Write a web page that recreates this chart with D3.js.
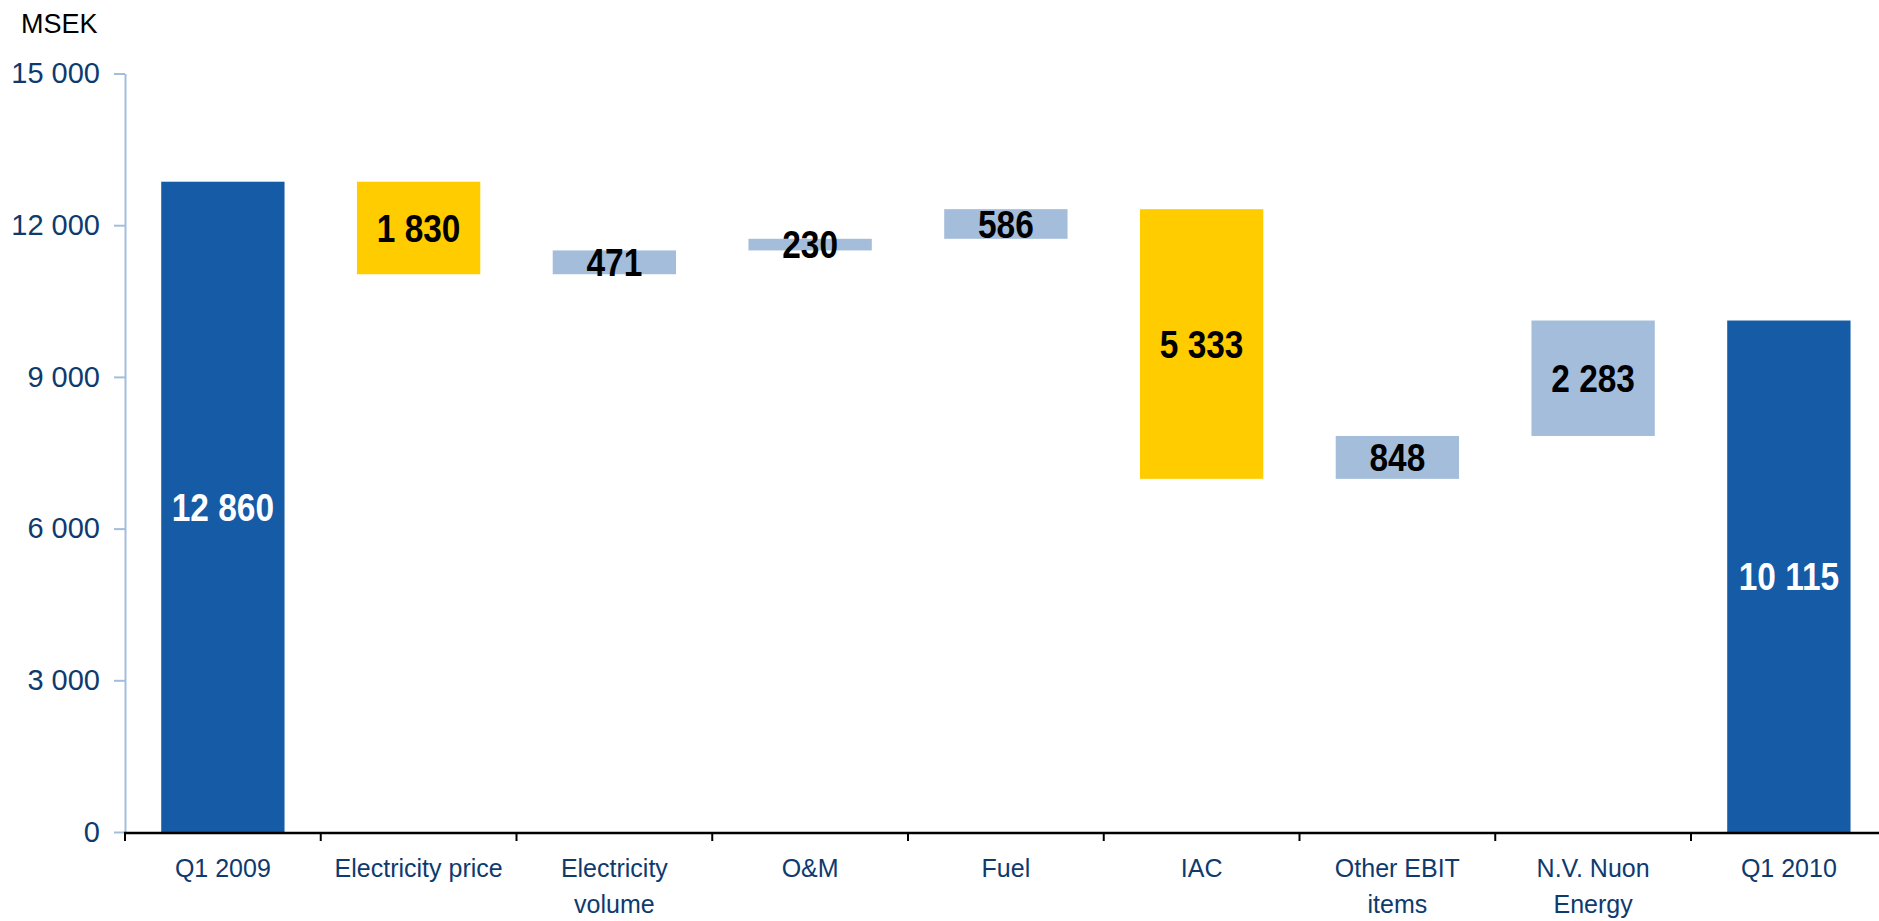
<!DOCTYPE html>
<html>
<head>
<meta charset="utf-8">
<script src="https://cdn.jsdelivr.net/npm/d3@7"></script>
<style>
  html, body { margin: 0; padding: 0; background: #fff; }
  svg { display: block; font-family: "Liberation Sans", Arial, sans-serif; }
</style>
</head>
<body>
<svg id="chart" width="1879" height="921"></svg>
<script>
// ---- data ----
const categories = ["Q1 2009", "Electricity price", "Electricity volume", "O&M", "Fuel", "IAC", "Other EBIT items", "N.V. Nuon Energy", "Q1 2010"];
const categoryLines = [["Q1 2009"], ["Electricity price"], ["Electricity", "volume"], ["O&M"], ["Fuel"], ["IAC"], ["Other EBIT", "items"], ["N.V. Nuon", "Energy"], ["Q1 2010"]];
const changes = [12860, -1830, 471, 230, 586, -5333, 848, 2283, 10115];
const kinds = ["total", "neg", "pos", "pos", "pos", "neg", "pos", "pos", "total"];
const yTicks = [0, 3000, 6000, 9000, 12000, 15000];
const unitLabel = "MSEK";

// ---- build waterfall segments ----
let running = 0;
const segs = categories.map((c, i) => {
  let y0, y1;
  if (kinds[i] === "total") { y0 = 0; y1 = changes[i]; running = changes[i]; }
  else { y0 = running; y1 = running + changes[i]; running = y1; }
  return { cat: c, lines: categoryLines[i], lo: Math.min(y0, y1), hi: Math.max(y0, y1), value: Math.abs(changes[i]), kind: kinds[i] };
});

const colors = { total: "#155BA6", neg: "#FFCC00", pos: "#A3BDDB" };
const textColor = "#0E3A6E";

const svg = d3.select("#chart");
const left = 125, bandW = 195.75;
const x = d3.scaleBand().domain(categories).range([left, left + bandW * categories.length]).padding(0);
const y = d3.scaleLinear().domain([0, 15000]).range([832, 73.5]);
const barW = x.bandwidth() * 0.63;

// bars
svg.append("g").selectAll("rect").data(segs).join("rect")
  .attr("x", d => x(d.cat) + (x.bandwidth() - barW) / 2)
  .attr("width", barW)
  .attr("y", d => y(d.hi))
  .attr("height", d => y(d.lo) - y(d.hi))
  .attr("fill", d => colors[d.kind]);

// y axis
const yAxis = svg.append("g").attr("transform", `translate(${left},0)`)
  .call(d3.axisLeft(y).tickValues(yTicks).tickSize(11).tickSizeOuter(0).tickPadding(14)
    .tickFormat(d => d3.format(",")(d).replace(/,/g, " ")));
yAxis.select(".domain").attr("stroke", "#A3BEDD").attr("stroke-width", 2);
yAxis.selectAll(".tick line").attr("stroke", "#A3BEDD").attr("stroke-width", 2);
yAxis.selectAll(".tick text").attr("fill", textColor).attr("font-size", 29).attr("font-family", "Liberation Sans, Arial, sans-serif");

// x axis line + boundary ticks
const xg = svg.append("g");
xg.append("line").attr("x1", left - 1).attr("x2", 1879).attr("y1", y(0) + 1).attr("y2", y(0) + 1)
  .attr("stroke", "#000").attr("stroke-width", 2.5);
xg.selectAll("line.tk").data(categories).join("line").attr("class", "tk")
  .attr("x1", d => x(d)).attr("x2", d => x(d))
  .attr("y1", y(0) + 1).attr("y2", y(0) + 9)
  .attr("stroke", "#000").attr("stroke-width", 2);

// x labels
const lbl = xg.selectAll("text.xl").data(segs).join("text").attr("class", "xl")
  .attr("text-anchor", "middle")
  .attr("fill", textColor)
  .attr("font-size", 25);
lbl.each(function(d) {
  const t = d3.select(this);
  d.lines.forEach((ln, j) => {
    t.append("tspan").attr("x", x(d.cat) + x.bandwidth() / 2).attr("y", 877 + j * 36).text(ln);
  });
});

// value labels
svg.append("g").selectAll("text").data(segs).join("text")
  .attr("transform", d => `translate(${x(d.cat) + x.bandwidth() / 2},${(y(d.lo) + y(d.hi)) / 2}) scale(0.88,1)`)
  .attr("dy", "0.36em")
  .attr("text-anchor", "middle")
  .attr("font-weight", "bold")
  .attr("font-size", 38)
  .attr("fill", d => d.kind === "total" ? "#fff" : "#000")
  .text(d => d3.format(",")(d.value).replace(/,/g, " "));

// unit label
svg.append("text").attr("x", 21).attr("y", 33).attr("font-size", 27).attr("fill", "#000").text(unitLabel);
</script>
</body>
</html>
